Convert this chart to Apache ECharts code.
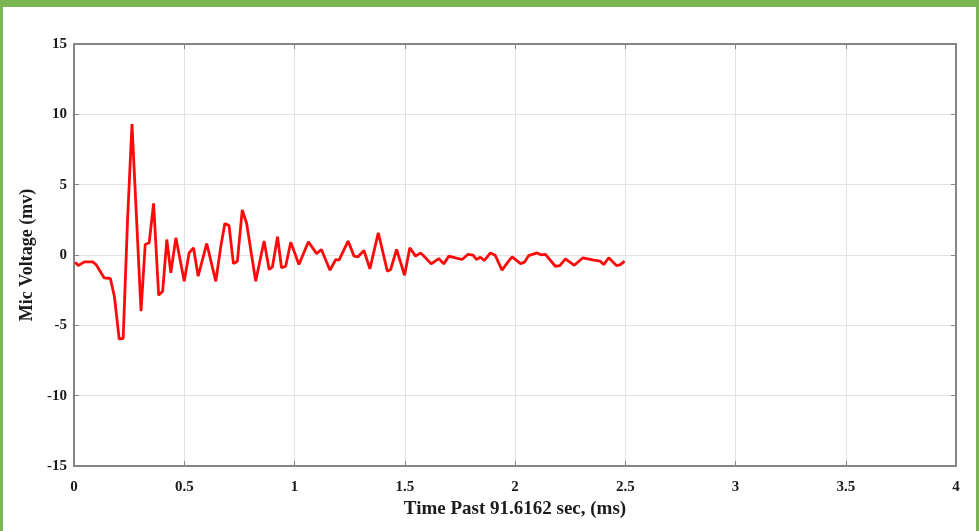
<!DOCTYPE html>
<html>
<head>
<meta charset="utf-8">
<script src="https://cdn.jsdelivr.net/npm/echarts@6/dist/echarts.min.js"></script>
<style>
  html, body { margin: 0; padding: 0; background: #ffffff; }
  #frame {
    width: 979px; height: 531px; box-sizing: border-box;
    border-top: 7px solid #7cb553; border-left: 3px solid #7cb553; border-right: 3px solid #7cb553;
    position: relative; overflow: hidden;
  }
  #chart { position: absolute; left: -3px; top: -7px; width: 979px; height: 531px; }
</style>
</head>
<body>
<div id="frame"><div id="chart"></div></div>
<script>
// Microphone response after the trigger, time in ms and voltage in mV
const timeMs = [0.005,0.02,0.047,0.085,0.1,0.137,0.165,0.183,0.205,0.223,0.243,0.263,0.304,0.323,0.341,0.361,0.384,0.402,0.421,0.439,0.462,0.5,0.522,0.542,0.563,0.602,0.643,0.666,0.684,0.703,0.723,0.741,0.763,0.783,0.824,0.862,0.885,0.9,0.923,0.941,0.96,0.983,1.02,1.063,1.1,1.122,1.161,1.187,1.202,1.243,1.27,1.288,1.315,1.342,1.38,1.421,1.436,1.463,1.499,1.523,1.549,1.572,1.594,1.62,1.654,1.677,1.7,1.73,1.76,1.786,1.81,1.825,1.843,1.861,1.889,1.911,1.941,1.971,1.987,2.025,2.043,2.062,2.1,2.118,2.138,2.183,2.203,2.229,2.269,2.308,2.357,2.387,2.402,2.425,2.46,2.478,2.497];
const micVoltage = [-0.51,-0.75,-0.49,-0.49,-0.68,-1.63,-1.67,-2.93,-5.98,-5.93,2.53,9.3,-4.0,0.75,0.87,3.67,-2.86,-2.58,1.1,-1.27,1.22,-1.87,0.15,0.51,-1.51,0.82,-1.87,0.63,2.24,2.1,-0.61,-0.44,3.2,2.24,-1.87,0.99,-1.03,-0.84,1.3,-0.91,-0.8,0.91,-0.68,0.94,0.1,0.39,-1.08,-0.32,-0.37,0.99,-0.08,-0.13,0.32,-0.99,1.58,-1.15,-1.03,0.39,-1.44,0.51,-0.08,0.15,-0.2,-0.63,-0.25,-0.63,-0.08,-0.2,-0.32,0.04,-0.01,-0.32,-0.16,-0.39,0.15,-0.04,-1.08,-0.44,-0.13,-0.61,-0.51,-0.04,0.15,0.01,0.04,-0.8,-0.75,-0.27,-0.73,-0.2,-0.37,-0.44,-0.68,-0.2,-0.75,-0.68,-0.44];

const xTicks = ['0','0.5','1','1.5','2','2.5','3','3.5','4'];
const yTicks = ['-15','-10','-5','0','5','10','15'];

const points = timeMs.map((t, i) => [t, micVoltage[i]]);

const fontFamily = '"Liberation Serif", "Times New Roman", serif';
const frameColor = '#858585';
const textColor = '#1c1c1c';
const labelStyle = { color: textColor, fontFamily, fontWeight: 'bold', fontSize: 15 };

const chart = echarts.init(document.getElementById('chart'), null, { renderer: 'canvas' });

const baseX = {
  type: 'value', min: 0, max: 4, interval: 0.5,
  axisLine: { show: true, onZero: false, lineStyle: { color: frameColor, width: 2 } },
  axisTick: { show: true, inside: true, length: 5, lineStyle: { color: frameColor, width: 1 } }
};
const baseY = {
  type: 'value', min: -15, max: 15, interval: 5,
  axisLine: { show: true, onZero: false, lineStyle: { color: frameColor, width: 2 } },
  axisTick: { show: true, inside: true, length: 5, lineStyle: { color: frameColor, width: 1 } }
};

chart.setOption({
  animation: false,
  backgroundColor: 'transparent',
  grid: { left: 74, right: 23, top: 44, bottom: 65, containLabel: false },
  xAxis: [
    Object.assign({}, baseX, {
      position: 'bottom',
      name: 'Time Past 91.6162 sec, (ms)',
      nameLocation: 'middle', nameGap: 34,
      nameTextStyle: { color: textColor, fontFamily, fontWeight: 'bold', fontSize: 19 },
      axisLabel: Object.assign({ margin: 14, formatter: v => xTicks[Math.round(v / 0.5)] }, labelStyle),
      splitLine: { show: true, lineStyle: { color: '#e3e3e3', width: 1 } }
    }),
    Object.assign({}, baseX, {
      position: 'top',
      axisLabel: { show: false },
      splitLine: { show: false }
    })
  ],
  yAxis: [
    Object.assign({}, baseY, {
      position: 'left',
      name: 'Mic Voltage (mv)',
      nameLocation: 'middle', nameGap: 31, nameRotate: 90,
      nameTextStyle: { color: textColor, fontFamily, fontWeight: 'bold', fontSize: 18 },
      axisLabel: Object.assign({ margin: 7, formatter: v => yTicks[Math.round((v + 15) / 5)] }, labelStyle),
      splitLine: { show: true, lineStyle: { color: '#e3e3e3', width: 1 } }
    }),
    Object.assign({}, baseY, {
      position: 'right',
      axisLabel: { show: false },
      splitLine: { show: false }
    })
  ],
  series: [{
    type: 'line',
    data: points,
    xAxisIndex: 0, yAxisIndex: 0,
    showSymbol: false,
    symbol: 'none',
    lineStyle: { color: '#ff0a0a', width: 2.8 },
    z: 5
  }]
});
</script>
</body>
</html>
